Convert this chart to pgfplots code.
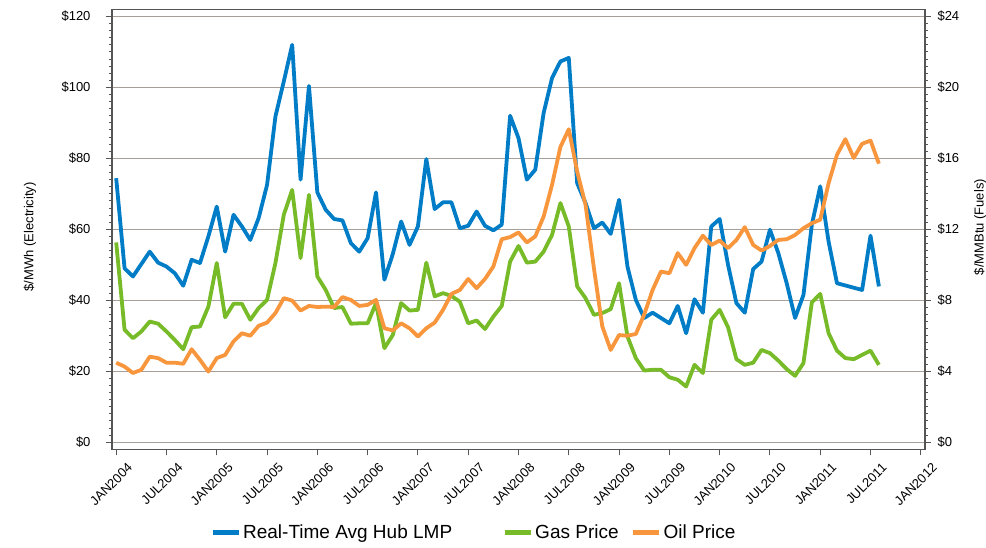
\documentclass[border=0pt]{standalone}
\usepackage{pgfplots}
\usepackage{pgfplotstable}
\pgfplotsset{compat=1.18}
\usepackage{fontspec}
\setmainfont{Liberation Sans}
\definecolor{lmp}{RGB}{0,125,198}
\definecolor{gas}{RGB}{119,187,40}
\definecolor{oil}{RGB}{247,150,60}
\definecolor{gridc}{RGB}{168,160,152}
\definecolor{axc}{RGB}{85,85,85}

% month index: 0 = JAN2004
\pgfplotstableread{
m v
0 74.4
1 49.0
2 46.7
3 50.2
4 53.7
5 50.6
6 49.5
7 47.6
8 44.1
9 51.4
10 50.5
11 58.0
12 66.4
13 53.7
14 64.1
15 60.8
16 57.0
17 63.2
18 72.5
19 91.8
20 101.7
21 112.0
22 74.0
23 100.4
24 70.4
25 65.5
26 62.9
27 62.5
28 56.1
29 53.7
30 57.5
31 70.4
32 45.8
33 53.0
34 62.2
35 55.6
36 60.8
37 79.8
38 65.7
39 67.6
40 67.6
41 60.3
42 61.0
43 65.0
44 61.0
45 59.7
46 61.3
47 92.0
48 85.7
49 74.0
50 76.8
51 92.8
52 102.6
53 107.3
54 108.3
55 73.0
56 67.4
57 60.3
58 61.9
59 58.7
60 68.3
61 49.5
62 40.1
63 35.0
64 36.5
65 35.0
66 33.5
67 38.4
68 30.7
69 40.3
70 36.5
71 60.8
72 62.9
73 50.0
74 39.2
75 36.5
76 48.8
77 50.9
78 59.9
79 53.3
80 44.8
81 35.0
82 41.5
83 61.3
84 72.1
85 56.5
86 44.8
89 42.9
90 58.2
91 43.9
}\lmptable

\pgfplotstableread{
m v
0 11.26
1 6.34
2 5.86
3 6.24
4 6.80
5 6.68
6 6.24
7 5.76
8 5.24
9 6.48
10 6.52
11 7.64
12 10.10
13 7.04
14 7.80
15 7.80
16 6.90
17 7.56
18 8.02
19 10.10
20 12.82
21 14.22
22 10.38
23 13.94
24 9.34
25 8.58
26 7.56
27 7.62
28 6.68
29 6.70
30 6.70
31 7.84
32 5.30
33 6.04
34 7.84
35 7.42
36 7.46
37 10.12
38 8.22
39 8.40
40 8.24
41 7.92
42 6.70
43 6.86
44 6.38
45 7.08
46 7.68
47 10.18
48 11.06
49 10.12
50 10.18
51 10.74
52 11.68
53 13.48
54 12.16
55 8.78
56 8.12
57 7.18
58 7.28
59 7.50
60 8.96
61 5.96
62 4.74
63 4.04
64 4.08
65 4.08
66 3.66
67 3.52
68 3.14
69 4.36
70 3.90
71 6.90
72 7.46
73 6.48
74 4.68
75 4.36
76 4.48
77 5.20
78 5.02
79 4.60
80 4.12
81 3.74
82 4.46
83 7.88
84 8.36
85 6.14
86 5.16
87 4.74
88 4.68
89 4.92
90 5.16
91 4.36
}\gastable

\pgfplotstableread{
m v
0 4.48
1 4.26
2 3.90
3 4.08
4 4.82
5 4.74
6 4.48
7 4.48
8 4.42
9 5.24
10 4.64
11 3.98
12 4.74
13 4.92
14 5.68
15 6.14
16 6.00
17 6.56
18 6.74
19 7.28
20 8.12
21 7.98
22 7.42
23 7.68
24 7.62
25 7.64
26 7.62
27 8.18
28 8.02
29 7.68
30 7.74
31 8.02
32 6.42
33 6.30
34 6.70
35 6.42
36 5.96
37 6.42
38 6.74
39 7.46
40 8.36
41 8.58
42 9.20
43 8.68
44 9.20
45 9.90
46 11.44
47 11.56
48 11.82
49 11.26
50 11.60
51 12.72
52 14.50
53 16.64
54 17.64
55 15.26
56 13.38
57 9.80
58 6.52
59 5.20
60 6.04
61 6.00
62 6.10
63 7.20
64 8.58
65 9.62
66 9.52
67 10.66
68 10.00
69 10.94
70 11.64
71 11.12
72 11.36
73 10.94
74 11.40
75 12.12
76 11.12
77 10.80
78 11.06
79 11.40
80 11.44
81 11.68
82 12.06
83 12.34
84 12.54
85 14.60
86 16.20
87 17.08
88 16.02
89 16.82
90 17.00
91 15.70
}\oiltable

\pgfplotsset{
  mybase/.style={
    at={(0pt,0pt)}, anchor=south west,
    scale only axis, width=813pt, height=440pt,
    xmin=-0.5, xmax=96.5,
    tick align=outside,
    major tick length=6pt, minor tick length=3pt,
    axis line style={axc, line width=1.1pt},
    every tick/.style={axc, line width=0.9pt},
    minor y tick num=9,
    ticklabel style={font=\fontsize{13}{15}\selectfont, color=black},
    label style={font=\fontsize{13}{15}\selectfont},
  }
}

\begin{document}
\begin{tikzpicture}
\path[use as bounding box] (-112pt,-98.7pt) rectangle (874pt,449.3pt);
\begin{axis}[
  mybase,
  ymin=-2, ymax=122,
  xtick pos=bottom, ytick pos=left,
  xtick={0,6,...,96},
  xticklabels={JAN2004,JUL2004,JAN2005,JUL2005,JAN2006,JUL2006,JAN2007,JUL2007,JAN2008,JUL2008,JAN2009,JUL2009,JAN2010,JUL2010,JAN2011,JUL2011,JAN2012},
  xticklabel style={rotate=45, anchor=east, xshift=6pt, yshift=-17pt},
  ytick={0,20,...,120},
  yticklabels={\$0,\$20,\$40,\$60,\$80,\$100,\$120},
  yticklabel style={xshift=-12pt},
  ymajorgrids,
  major grid style={gridc, line width=1.2pt},
  ylabel={\$/MWh (Electricity)},
  ylabel style={at={(axis description cs:-0.1009,0.483)}, anchor=center, rotate=0},
]
\addplot[lmp, line width=3.8pt, line join=round] table[x=m, y=v] {\lmptable};
\end{axis}
\begin{axis}[
  mybase,
  ymin=-0.4, ymax=24.4,
  axis y line*=right,
  hide x axis,
  ytick={0,4,...,24},
  yticklabels={\$0,\$4,\$8,\$12,\$16,\$20,\$24},
  yticklabel style={xshift=3pt},
  ylabel={\$/MMBtu (Fuels)},
  ylabel style={at={(axis description cs:1.0677,0.505)}, anchor=center, rotate=0},
  legend columns=3,
  legend style={at={(0.445,-0.188)}, anchor=center, draw=none, fill=none,
    font=\fontsize{19}{21}\selectfont},
  legend image code/.code={\draw[#1, line width=5pt] (0pt,0pt) -- (26pt,0pt);},
]
\addlegendimage{lmp}
\addlegendentry{Real-Time Avg Hub LMP\hspace*{48pt}}
\addplot[gas, line width=3.8pt, line join=round] table[x=m, y=v] {\gastable};
\addlegendentry{Gas Price\hspace*{10pt}}
\addplot[oil, line width=3.8pt, line join=round] table[x=m, y=v] {\oiltable};
\addlegendentry{Oil Price}
\end{axis}
\end{tikzpicture}
\end{document}
